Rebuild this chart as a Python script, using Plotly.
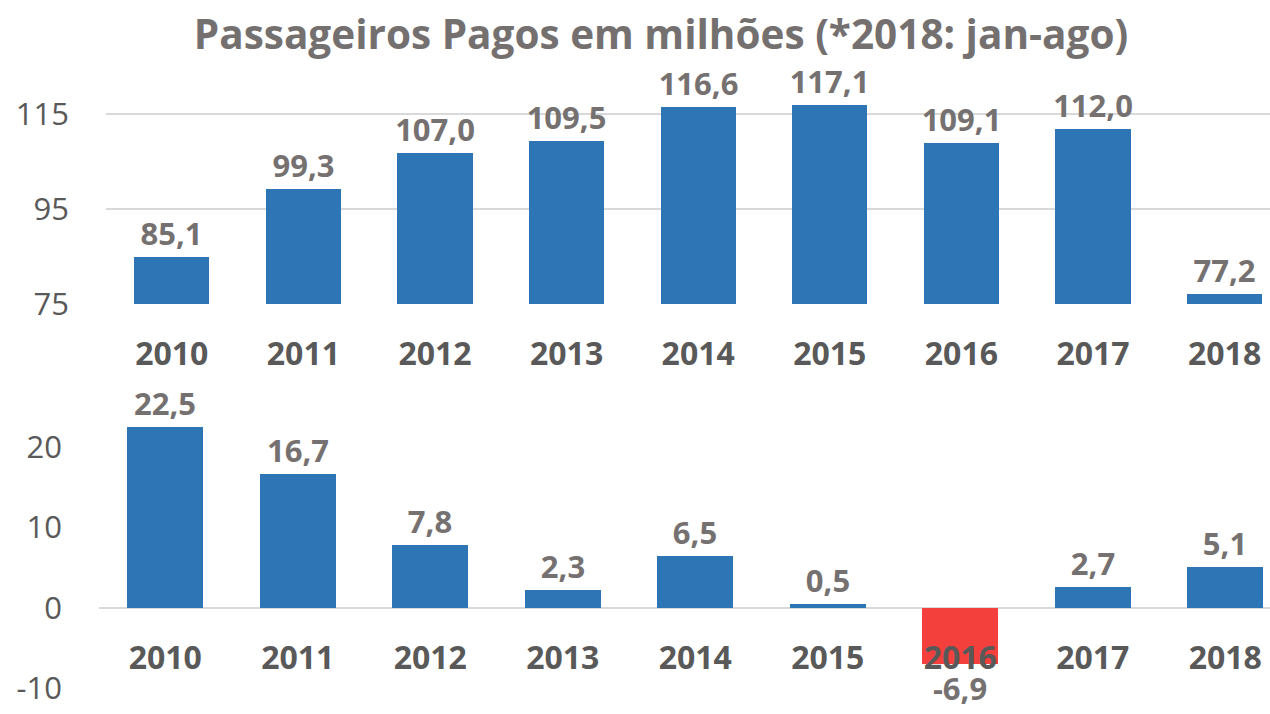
import plotly.graph_objects as go

years = ["2010", "2011", "2012", "2013", "2014", "2015", "2016", "2017", "2018"]
passengers = [85.1, 99.3, 107.0, 109.5, 116.6, 117.1, 109.1, 112.0, 77.2]
growth = [22.5, 16.7, 7.8, 2.3, 6.5, 0.5, -6.9, 2.7, 5.1]
top_ticks = [75, 95, 115]
bottom_ticks = [-10, 0, 10, 20]

W, H = 1270, 714
BLUE = "#2E75B6"
RED = "#F4403C"
LABEL = "#767171"
TICK = "#595959"
GRID = "#D9D9D9"
FONT = "Open Sans"


def fmt(v):
    return f"{v:.1f}".replace(".", ",")


def px_x(p):
    return p / W


def px_y(p):
    return 1 - p / H


fig = go.Figure()

fig.add_trace(go.Bar(
    x=years, y=passengers, xaxis="x", yaxis="y",
    marker=dict(color=BLUE, line=dict(width=0)),
    width=0.57,
    text=[fmt(v) for v in passengers], textposition="outside",
    textfont=dict(family=FONT, size=31, color=LABEL, weight="bold"),
    cliponaxis=False, constraintext="none", showlegend=False, hoverinfo="skip",
))

fig.add_trace(go.Bar(
    x=years, y=growth, xaxis="x2", yaxis="y2",
    marker=dict(color=[BLUE if v >= 0 else RED for v in growth], line=dict(width=0)),
    width=0.57,
    text=[fmt(v) for v in growth], textposition="outside",
    textfont=dict(family=FONT, size=31, color=LABEL, weight="bold"),
    cliponaxis=False, constraintext="none", showlegend=False, hoverinfo="skip",
))

# top panel geometry (pixels): plot x 106..1270, category pitch 131.6; y 75@304, 4.75 px/unit
top_x0, pitch_top = 106, 131.6
top_y75, top_scale = 304, 4.75
top_range = [75, 125]
top_top_px = top_y75 - (top_range[1] - top_range[0]) * top_scale

# bottom panel: plot x 99..1270, pitch 132.5; 0@608, 8.05 px/unit
bot_x0, pitch_bot = 99, 132.5
bot_y0, bot_scale = 608, 8.05
bot_range = [-10, 25]
bot_bottom_px = bot_y0 - bot_range[0] * bot_scale
bot_top_px = bot_y0 - bot_range[1] * bot_scale

fig.update_layout(
    width=W, height=H,
    margin=dict(l=0, r=0, t=0, b=0, autoexpand=False),
    paper_bgcolor="white", plot_bgcolor="white",
    bargap=0,
    title=dict(
        text="<b>Passageiros Pagos em milhões (*2018: jan-ago)</b>",
        x=px_x(661), xanchor="center", y=px_y(35), yanchor="middle",
        font=dict(family=FONT, size=40.5, color="#757070"),
        automargin=False,
    ),
    xaxis=dict(
        domain=[px_x(top_x0), 1], anchor="y",
        range=[-0.5, -0.5 + (W - top_x0) / pitch_top],
        type="category", showgrid=False, showline=False, ticks="",
        tickfont=dict(family=FONT, size=32, color=TICK, weight="bold"),
        ticklabelstandoff=28, automargin=False,
    ),
    yaxis=dict(
        domain=[px_y(top_y75), px_y(top_top_px)], anchor="x",
        range=top_range, tickmode="array",
        tickvals=top_ticks, ticktext=[str(t) for t in top_ticks],
        showgrid=True, gridcolor=GRID, gridwidth=2,
        zeroline=False, showline=False, ticks="",
        tickfont=dict(family=FONT, size=31, color=TICK),
        ticklabelstandoff=36, automargin=False,
    ),
    xaxis2=dict(
        domain=[px_x(bot_x0), 1], anchor="free", position=px_y(bot_y0),
        range=[-0.5, -0.5 + (W - bot_x0) / pitch_bot],
        type="category", showgrid=False, showline=False, ticks="",
        tickfont=dict(family=FONT, size=32, color=TICK, weight="bold"),
        ticklabelstandoff=28, automargin=False,
    ),
    yaxis2=dict(
        domain=[px_y(bot_bottom_px), px_y(bot_top_px)], anchor="x2",
        range=bot_range, tickmode="array",
        tickvals=bottom_ticks, ticktext=[str(t) for t in bottom_ticks],
        showgrid=False, zeroline=True, zerolinecolor=GRID, zerolinewidth=2,
        showline=False, ticks="",
        tickfont=dict(family=FONT, size=31, color=TICK),
        ticklabelstandoff=36, automargin=False,
    ),
)

fig.write_html("out.html")
